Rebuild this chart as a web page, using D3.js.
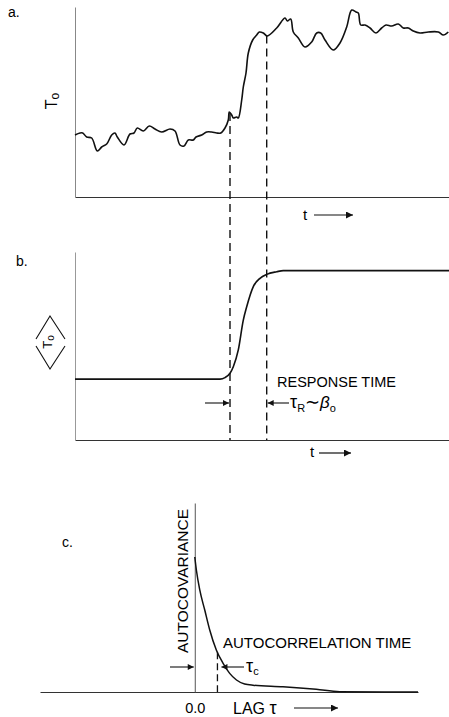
<!DOCTYPE html>
<html>
<head>
<meta charset="utf-8">
<script src="https://cdn.jsdelivr.net/npm/d3@7"></script>
<style>
  html, body { margin: 0; padding: 0; background: #fff; }
  svg { display: block; }
  text { font-family: "Liberation Sans", Arial, Helvetica, sans-serif; fill: #000; }
</style>
</head>
<body>
<svg id="chart" width="449" height="717"></svg>
<script>
// ---------------- DATA ----------------
// Panel a: instantaneous temperature T_o vs time t (arbitrary units)
const timeA = [0,5,7.7,11.7,16.7,22.3,26.7,31.7,36.7,40,42.3,49,55,59,62.3,68.3,74.3,80,86.7,95,100,105,109,113.3,118.3,121,126.7,131.7,136.7,141.7,145.7,150,153.3,154.3,156.7,158.3,161.7,163.3,166.7,168.3,171,173.3,177.7,181.7,184.3,188.3,192.3,201.7,210,212.3,215.7,218.3,223.3,230,236.7,241.7,245.7,250,258.3,265,271.7,276.7,281,283.3,285.7,290,295,301,306.7,311,316.7,323.3,328.3,333.3,338.3,345,353.3,363.3,368.3,373.3];
const tempA = [62,64,64,60,59,46,50,53,62,64,60,52,63,64,69,66,71,68,65,68,66,52,51,57,57,60,62,65,65,64,64,69,77,85,82,79,80,79,97,110,124,144,157,162,165,164,161,169,179,176,178,165,159,150,155,164,164,157,147,154,170,187,185,184,172,172,169,164,169,172,171,173,169,169,166,164,165,165,162,165];

// Panel b: ensemble-mean temperature <T_o> vs time t
const timeB = [0,145,150,155,158.3,163.3,168.3,171.7,178.3,185,191.7,201.7,208.3,374];
const meanB = [32.4,32.4,33.2,35.5,39.0,47.9,63.8,70.9,81.6,86.0,88.1,89.5,90.1,90.1];

// Response-time markers (same t units as panels a/b)
const responseStart = 155;
const responseEnd = 191.7;

// Panel c: autocovariance vs lag tau (lag in units of the autocorrelation time)
const lagC  = [0,0.073,0.22,0.44,0.66,0.95,1.25,1.54,1.84,2.2,2.57,3.89,5.36,6.39,9.85];
const acovC = [1.0,0.90,0.756,0.607,0.459,0.311,0.212,0.138,0.089,0.059,0.05,0.039,0.02,0.002,0.0];
const corrTime = 1.0;
const lagTicks = [0];

// ---------------- DRAW ----------------
const svg = d3.select("#chart");
svg.append("rect").attr("width", 449).attr("height", 717).attr("fill", "#fff");

const defs = svg.append("defs");
function mk(id, w, h) {
  defs.append("marker").attr("id", id)
    .attr("viewBox", "0 0 10 10").attr("refX", 10).attr("refY", 5)
    .attr("markerUnits", "userSpaceOnUse")
    .attr("markerWidth", w).attr("markerHeight", h)
    .attr("orient", "auto")
    .append("path").attr("d", "M0,0L10,5L0,10z").attr("fill", "#111");
}
mk("head", 9, 6);
mk("bighead", 13, 7);

const xT = d3.scaleLinear().domain([0, 374]).range([75, 449]);
const yA = d3.scaleLinear().domain([0, 190]).range([197, 7]);
const yB = d3.scaleLinear().domain([0, 100]).range([440, 252]);
const xC = d3.scaleLinear().domain([-6.83, 9.85]).range([40, 418]);
const yC = d3.scaleLinear().domain([0, 1.4]).range([692, 503]);

function axis(g, gen, color) {
  g.call(gen);
  g.selectAll(".domain").attr("stroke", color).attr("stroke-width", 1);
  g.selectAll(".tick line").remove();
}

// ---- Panel a ----
const ga = svg.append("g");
axis(ga.append("g").attr("transform", `translate(0,${yA(0)})`),
     d3.axisBottom(xT).tickValues([]).tickSizeOuter(0), "#333");
axis(ga.append("g").attr("transform", `translate(${xT(0)},0)`),
     d3.axisLeft(yA).tickValues([]).tickSizeOuter(0), "#888");

const ptsA = timeA.map((t, i) => [t, tempA[i]]);
ga.append("path").datum(ptsA)
  .attr("fill", "none").attr("stroke", "#111").attr("stroke-width", 1.6)
  .attr("stroke-linejoin", "round")
  .attr("d", d3.line().curve(d3.curveCatmullRom.alpha(0.5)).x(d => xT(d[0])).y(d => yA(d[1])));

function interpA(t) {
  const i = d3.bisectLeft(timeA, t);
  if (i <= 0) return tempA[0];
  const t0 = timeA[i - 1], t1 = timeA[i];
  const f = (t - t0) / (t1 - t0);
  return tempA[i - 1] + f * (tempA[i] - tempA[i - 1]);
}

// dashed lines through panels a and b
[responseStart, responseEnd].forEach(t => {
  svg.append("line")
    .attr("x1", xT(t)).attr("x2", xT(t))
    .attr("y1", yA(interpA(t))).attr("y2", yB(0))
    .attr("stroke", "#111").attr("stroke-width", 1.4)
    .attr("stroke-dasharray", "8,5");
});

ga.append("text").attr("x", 8).attr("y", 17).attr("font-size", 14).text("a.");
// T_o label (rotated)
const lblA = ga.append("text").attr("transform", "translate(57,101) rotate(-90)")
  .attr("text-anchor", "middle");
lblA.append("tspan").attr("font-size", 16).text("T");
lblA.append("tspan").attr("font-size", 12).attr("dy", 2).text("o");
// t arrow
ga.append("text").attr("x", 303).attr("y", 220).attr("font-size", 15).text("t");
ga.append("line").attr("x1", 314).attr("x2", 353).attr("y1", 215).attr("y2", 215)
  .attr("stroke", "#111").attr("stroke-width", 1.2).attr("marker-end", "url(#bighead)");

// ---- Panel b ----
const gb = svg.append("g");
axis(gb.append("g").attr("transform", `translate(0,${yB(0)})`),
     d3.axisBottom(xT).tickValues([]).tickSizeOuter(0), "#333");
axis(gb.append("g").attr("transform", `translate(${xT(0)},0)`),
     d3.axisLeft(yB).tickValues([]).tickSizeOuter(0), "#999");

const ptsB = timeB.map((t, i) => [t, meanB[i]]);
gb.append("path").datum(ptsB)
  .attr("fill", "none").attr("stroke", "#111").attr("stroke-width", 1.6)
  .attr("d", d3.line().curve(d3.curveMonotoneX).x(d => xT(d[0])).y(d => yB(d[1])));

gb.append("text").attr("x", 16).attr("y", 266).attr("font-size", 14).text("b.");
// <T_o> label
gb.append("path").attr("d", "M36,339L50,316L65,339M36,346L50,369L65,346")
  .attr("fill", "none").attr("stroke", "#111").attr("stroke-width", 1.1);
const lblB = gb.append("text").attr("transform", "translate(52,342) rotate(-90)")
  .attr("text-anchor", "middle");
lblB.append("tspan").attr("font-size", 13).text("T");
lblB.append("tspan").attr("font-size", 10).attr("dy", 2).text("o");

gb.append("text").attr("x", 277).attr("y", 387).attr("font-size", 14.5).text("RESPONSE TIME");
// arrows
gb.append("line").attr("x1", 205).attr("x2", xT(responseStart) - 1).attr("y1", 403).attr("y2", 403)
  .attr("stroke", "#111").attr("stroke-width", 1.1).attr("marker-end", "url(#head)");
gb.append("line").attr("x1", 289).attr("x2", xT(responseEnd) + 1).attr("y1", 403).attr("y2", 403)
  .attr("stroke", "#111").attr("stroke-width", 1.1).attr("marker-end", "url(#head)");
const tr = gb.append("text").attr("x", 290).attr("y", 408);
tr.append("tspan").attr("font-size", 18).text("τ");
tr.append("tspan").attr("font-size", 11).attr("dy", 4).text("R");
tr.append("tspan").attr("font-size", 18).attr("dy", -4).text("∼");
tr.append("tspan").attr("font-size", 17).attr("font-style", "italic").text("β");
tr.append("tspan").attr("font-size", 11).attr("dy", 4).text("o");

gb.append("text").attr("x", 310).attr("y", 457).attr("font-size", 15).text("t");
gb.append("line").attr("x1", 319).attr("x2", 351).attr("y1", 453).attr("y2", 453)
  .attr("stroke", "#111").attr("stroke-width", 1.2).attr("marker-end", "url(#bighead)");

// ---- Panel c ----
const gc = svg.append("g");
const xAxC = gc.append("g").attr("transform", `translate(0,${yC(0)})`)
  .call(d3.axisBottom(xC).tickValues(lagTicks).tickFormat(d3.format(".1f")).tickSize(0).tickPadding(11).tickSizeOuter(0));
xAxC.select(".domain").attr("stroke", "#333").attr("stroke-width", 1);
xAxC.selectAll(".tick text").attr("font-size", 14.5).attr("fill", "#000")
  .attr("font-family", "Liberation Sans, Arial, sans-serif");
axis(gc.append("g").attr("transform", `translate(${xC(0)},0)`),
     d3.axisLeft(yC).tickValues([]).tickSizeOuter(0), "#555");

const ptsC = lagC.map((l, i) => [l, acovC[i]]);
gc.append("path").datum(ptsC)
  .attr("fill", "none").attr("stroke", "#111").attr("stroke-width", 1.5)
  .attr("d", d3.line().curve(d3.curveMonotoneX).x(d => xC(d[0])).y(d => yC(d[1])));

// dashed line at autocorrelation time
function interpC(l) {
  const i = d3.bisectLeft(lagC, l);
  const l0 = lagC[i - 1], l1 = lagC[i];
  const f = (l - l0) / (l1 - l0);
  return acovC[i - 1] + f * (acovC[i] - acovC[i - 1]);
}
gc.append("line").attr("x1", xC(corrTime)).attr("x2", xC(corrTime))
  .attr("y1", yC(interpC(corrTime))).attr("y2", yC(0))
  .attr("stroke", "#111").attr("stroke-width", 1.3).attr("stroke-dasharray", "7,4");

gc.append("text").attr("x", 62).attr("y", 547).attr("font-size", 14).text("c.");
gc.append("text").attr("transform", "translate(188,581) rotate(-90)")
  .attr("text-anchor", "middle").attr("font-size", 15.5).text("AUTOCOVARIANCE");
gc.append("text").attr("x", 223).attr("y", 648).attr("font-size", 15).text("AUTOCORRELATION TIME");

gc.append("line").attr("x1", 170).attr("x2", xC(0) - 1).attr("y1", 667).attr("y2", 667)
  .attr("stroke", "#111").attr("stroke-width", 1.1).attr("marker-end", "url(#head)");
gc.append("line").attr("x1", 244).attr("x2", xC(corrTime) + 4).attr("y1", 667).attr("y2", 667)
  .attr("stroke", "#111").attr("stroke-width", 1.1).attr("marker-end", "url(#head)");
const tc = gc.append("text").attr("x", 246).attr("y", 672);
tc.append("tspan").attr("font-size", 18).text("τ");
tc.append("tspan").attr("font-size", 11).attr("dy", 3).text("c");

const lag = gc.append("text").attr("x", 233).attr("y", 714);
lag.append("tspan").attr("font-size", 16).text("LAG ");
lag.append("tspan").attr("font-size", 18).text("τ");
gc.append("line").attr("x1", 294).attr("x2", 338).attr("y1", 708).attr("y2", 708)
  .attr("stroke", "#111").attr("stroke-width", 1.2).attr("marker-end", "url(#bighead)");
</script>
</body>
</html>
